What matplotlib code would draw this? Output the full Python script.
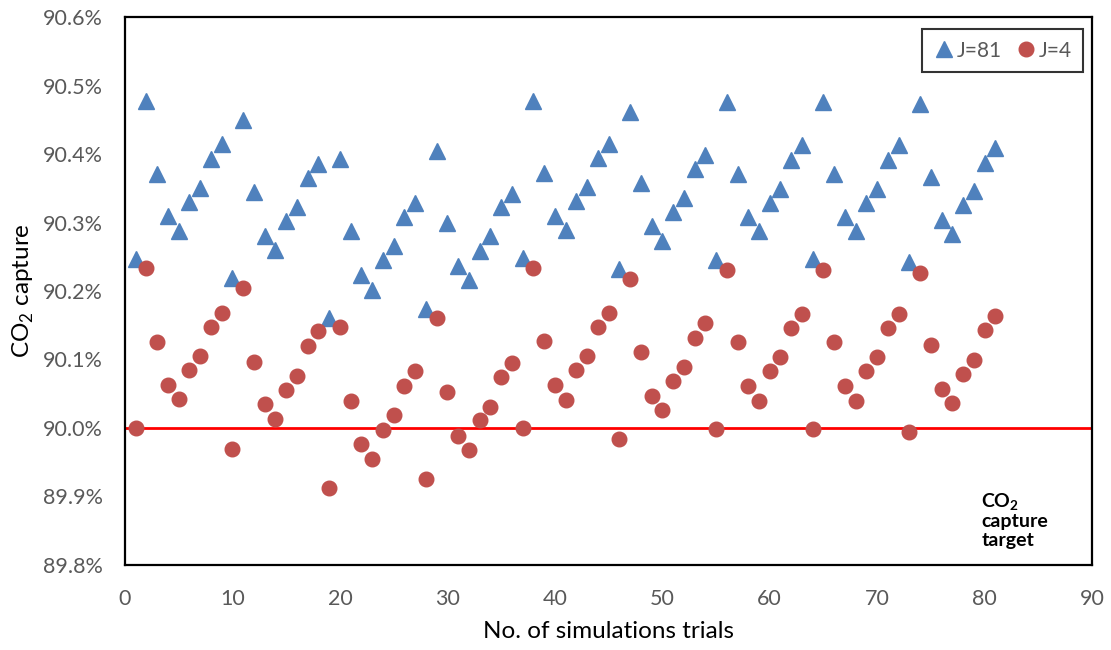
import numpy as np
import matplotlib
matplotlib.use('Agg')
import matplotlib.pyplot as plt
from matplotlib.ticker import FuncFormatter, MultipleLocator

plt.rcParams['font.family'] = ['Lato', 'DejaVu Sans']
plt.rcParams['mathtext.fontset'] = 'custom'
plt.rcParams['mathtext.rm'] = 'Lato'
plt.rcParams['mathtext.bf'] = 'Lato:bold'

# Datos (captura de CO2 en %)
trials = np.arange(1, 82)

j81 = [90.247, 90.477, 90.371, 90.309, 90.288, 90.330, 90.351, 90.393, 90.414, 90.219,
       90.449, 90.345, 90.281, 90.260, 90.302, 90.323, 90.365, 90.386, 90.161, 90.393,
       90.287, 90.224, 90.202, 90.245, 90.266, 90.308, 90.329, 90.174, 90.405, 90.300,
       90.237, 90.216, 90.258, 90.280, 90.322, 90.342, 90.248, 90.477, 90.372, 90.309,
       90.289, 90.331, 90.352, 90.394, 90.414, 90.232, 90.462, 90.357, 90.295, 90.273,
       90.315, 90.336, 90.378, 90.399, 90.245, 90.476, 90.371, 90.308, 90.288, 90.329,
       90.349, 90.391, 90.413, 90.246, 90.476, 90.371, 90.308, 90.288, 90.329, 90.349,
       90.391, 90.413, 90.242, 90.473, 90.367, 90.304, 90.283, 90.325, 90.346, 90.387,
       90.409]

j4 = [90.000, 90.233, 90.126, 90.063, 90.042, 90.084, 90.105, 90.147, 90.168, 89.970,
      90.205, 90.097, 90.035, 90.013, 90.055, 90.076, 90.119, 90.141, 89.913, 90.147,
      90.040, 89.976, 89.955, 89.997, 90.019, 90.061, 90.083, 89.926, 90.161, 90.053,
      89.989, 89.968, 90.011, 90.031, 90.074, 90.095, 90.000, 90.233, 90.127, 90.063,
      90.041, 90.084, 90.105, 90.147, 90.168, 89.984, 90.217, 90.111, 90.047, 90.026,
      90.068, 90.089, 90.131, 90.153, 89.998, 90.231, 90.125, 90.061, 90.040, 90.083,
      90.103, 90.146, 90.167, 89.998, 90.231, 90.125, 90.061, 90.040, 90.083, 90.103,
      90.146, 90.167, 89.994, 90.227, 90.121, 90.057, 90.036, 90.079, 90.099, 90.143,
      90.164]

target = 90.0

fig = plt.figure(figsize=(11.11, 6.5), dpi=100)
ax = fig.add_axes([0.1125, 0.1308, 0.8705, 0.843])

ax.plot(trials, j81, linestyle='none', marker='^', ms=11, color='#4F81BD', label='J=81')
ax.plot(trials, j4, linestyle='none', marker='o', ms=10.5, color='#C0504D', label='J=4')
ax.axhline(target, color='#FF0000', linewidth=2, zorder=1)

ax.set_xlim(0, 90)
ax.set_ylim(89.8, 90.6)
ax.xaxis.set_major_locator(MultipleLocator(10))
ax.yaxis.set_major_locator(MultipleLocator(0.1))
ax.yaxis.set_major_formatter(FuncFormatter(lambda v, p: f"{v:.1f}%"))
ax.tick_params(length=0, labelsize=15.5, labelcolor='#595959')
ax.tick_params(axis='x', pad=17)
ax.tick_params(axis='y', pad=16)

for s in ax.spines.values():
    s.set_color('black')
    s.set_linewidth(1.6)

ax.set_xlabel('No. of simulations trials', fontsize=17.5, labelpad=9)
ax.set_ylabel('CO$_2$ capture', fontsize=17.5, labelpad=5)

ax.text(79.7, 89.908, '$\\mathbf{CO_2}$\ncapture\ntarget', fontsize=14,
        fontweight='bold', va='top', ha='left', linespacing=1.1)

leg = ax.legend(loc='upper right', bbox_to_anchor=(0.9907, 0.978), ncol=2,
                fontsize=15, frameon=True, fancybox=False, handletextpad=0.05,
                columnspacing=0.6, borderpad=0.55, handlelength=1.1,
                borderaxespad=0)
leg.get_frame().set_edgecolor('black')
leg.get_frame().set_linewidth(1.5)
for t in leg.get_texts():
    t.set_color('#595959')

fig.savefig('out.png', dpi=100)
